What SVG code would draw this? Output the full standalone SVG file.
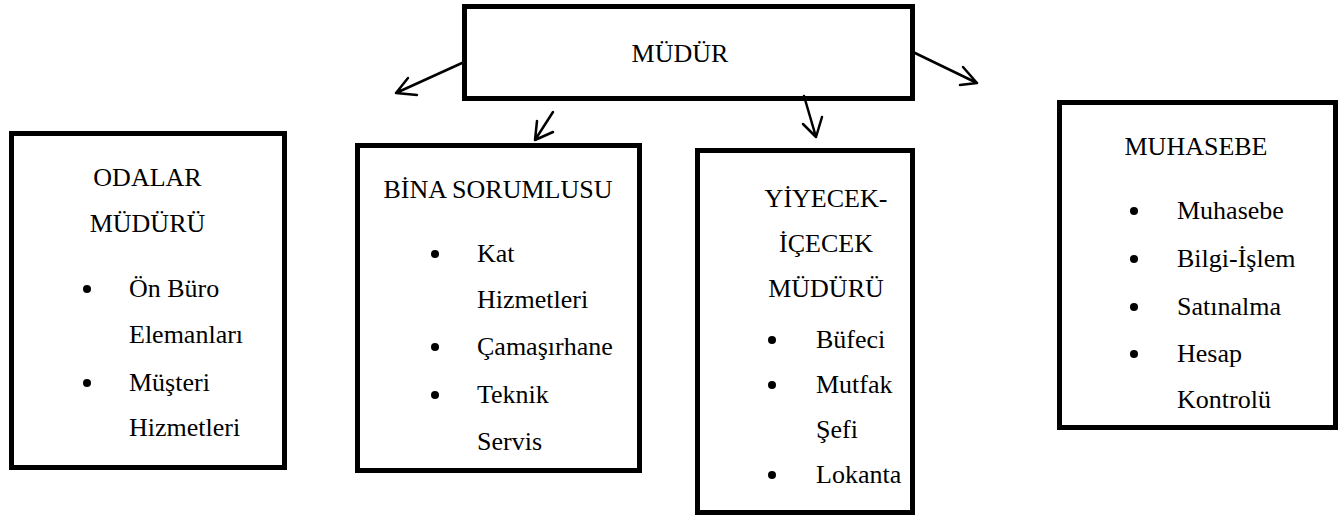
<svg xmlns="http://www.w3.org/2000/svg" width="1344" height="518" viewBox="0 0 1344 518">
<style>
.box{fill:#fff;stroke:#000;stroke-width:5}
.t{font-family:"Liberation Serif","Times New Roman",serif;font-size:26px;fill:#000}
.c{text-anchor:middle}
.b{fill:#000}
.con{fill:none;stroke:#000;stroke-width:2.5;stroke-linecap:round;stroke-linejoin:round}
</style>
<rect width="1344" height="518" fill="#fff"/>
<g id="mudur">
<rect class="box" x="464.5" y="6.5" width="448" height="92"/>
<text class="t c" x="680" y="62">MÜDÜR</text>
</g>
<g id="odalar">
<rect class="box" x="11.5" y="133.5" width="273" height="334"/>
<text class="t c" x="147.5" y="186">ODALAR</text>
<text class="t c" x="147.5" y="232">MÜDÜRÜ</text>
<circle class="b" cx="87" cy="289" r="4"/>
<text class="t" x="129" y="297">Ön Büro</text>
<text class="t" x="129" y="343">Elemanları</text>
<circle class="b" cx="87" cy="383" r="4"/>
<text class="t" x="129" y="391">Müşteri</text>
<text class="t" x="129" y="436">Hizmetleri</text>
</g>
<g id="bina">
<rect class="box" x="357.5" y="145.5" width="282" height="325"/>
<text class="t c" x="498" y="198">BİNA SORUMLUSU</text>
<circle class="b" cx="435" cy="254" r="4"/>
<text class="t" x="477" y="262">Kat</text>
<text class="t" x="477" y="308">Hizmetleri</text>
<circle class="b" cx="435" cy="347" r="4"/>
<text class="t" x="477" y="355">Çamaşırhane</text>
<circle class="b" cx="435" cy="395" r="4"/>
<text class="t" x="477" y="403">Teknik</text>
<text class="t" x="477" y="450">Servis</text>
</g>
<g id="yiyecek">
<rect class="box" x="697.5" y="150.5" width="215" height="362"/>
<text class="t c" x="826" y="207">YİYECEK-</text>
<text class="t c" x="826" y="252">İÇECEK</text>
<text class="t c" x="826" y="297">MÜDÜRÜ</text>
<circle class="b" cx="772" cy="340" r="4"/>
<text class="t" x="816" y="348">Büfeci</text>
<circle class="b" cx="772" cy="385" r="4"/>
<text class="t" x="816" y="393">Mutfak</text>
<text class="t" x="816" y="438">Şefi</text>
<circle class="b" cx="772" cy="475" r="4"/>
<text class="t" x="816" y="483">Lokanta</text>
</g>
<g id="muhasebe">
<rect class="box" x="1059.5" y="102.5" width="276" height="325"/>
<text class="t c" x="1196" y="155">MUHASEBE</text>
<circle class="b" cx="1134" cy="211" r="4"/>
<text class="t" x="1177" y="219">Muhasebe</text>
<circle class="b" cx="1134" cy="259" r="4"/>
<text class="t" x="1177" y="267">Bilgi-İşlem</text>
<circle class="b" cx="1134" cy="307" r="4"/>
<text class="t" x="1177" y="315">Satınalma</text>
<circle class="b" cx="1134" cy="354" r="4"/>
<text class="t" x="1177" y="362">Hesap</text>
<text class="t" x="1177" y="408">Kontrolü</text>
</g>
<g id="connectors">
<path class="con" d="M462 63 L396 93 M408 78 L396 93 L417 95"/>
<path class="con" d="M553 112 L535 140 M537 121 L535 140 L553 132"/>
<path class="con" d="M804 96 L816 137 M803 124 L816 137 L822 117"/>
<path class="con" d="M915 53 L977 83 M963 67 L977 83 L960 85"/>
</g>
</svg>
